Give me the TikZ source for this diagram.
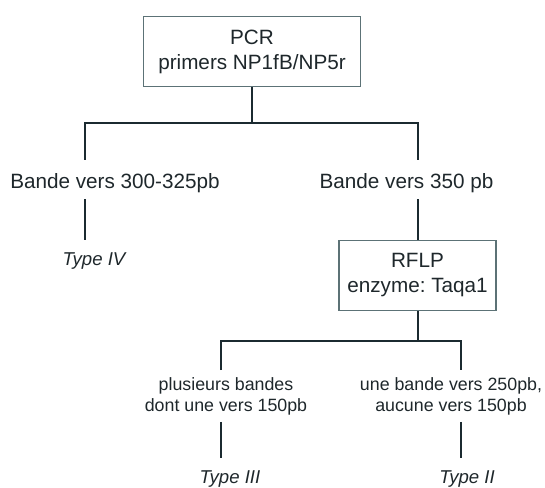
\documentclass[tikz,border=0pt]{standalone}
\usepackage{fontspec}
\setmainfont{Liberation Sans}
\usepackage{xcolor}
\usetikzlibrary{positioning,calc}
\definecolor{Ink}{HTML}{1E272B}
\definecolor{Wire}{HTML}{1B2A30}
\definecolor{Frame}{HTML}{5C7276}
\frenchspacing

\begin{document}
\begin{tikzpicture}[x=1pt,y=-1pt,
  stepbox/.style={draw=Frame,line width=1.6pt,minimum width=217pt,minimum height=70pt,
    align=center,inner sep=0pt,font=\fontsize{20.7}{25}\selectfont},
  band/.style={anchor=base,inner sep=0pt,text height=28pt,text depth=11pt,
    font=\fontsize{20.7}{25}\selectfont},
  detail/.style={anchor=north,align=center,inner xsep=0pt,inner ysep=7pt,
    font=\fontsize{17.8}{21}\selectfont},
  typelbl/.style={anchor=base,inner sep=0pt,text height=25pt,
    font=\fontsize{18.6}{22}\selectfont\itshape},
  link/.style={draw=Wire,line width=2pt},
  every node/.style={text=Ink}]
  \useasboundingbox (0,0) rectangle (545,487);
  \node[stepbox] (pcr) at (252,51.5) {PCR\\primers NP1fB/NP5r};
  \node[band] (band1) at (115,188) {Bande vers 300-325pb};
  \node[band] (band2) at (406.5,188) {Bande vers 350 pb};
  \node[typelbl] (type4) at (94,265) {Type IV};
  \node[stepbox,minimum width=157pt] (rflp) at (417.5,275.5) {RFLP\\enzyme: Taqa1};
  \node[detail] (multi) at (226,370) {plusieurs bandes\\dont une vers 150pb};
  \node[detail] (single) at (451,370) {une bande vers 250pb,\\aucune vers 150pb};
  \node[typelbl] (type3) at (230,483) {Type III};
  \node[typelbl] (type2) at (467,483) {Type II};
  \coordinate (forkL) at (85,123);
  \coordinate (forkR) at (417.5,123);
  \coordinate (subL) at (221,341);
  \coordinate (subR) at (461,341);
  \draw[link] (pcr.south) -- (pcr.south |- forkL);
  \draw[link] (band1.north -| forkL) -- (forkL) -- (forkR) -- (band2.north -| forkR);
  \draw[link] (band1.south -| forkL) -- (type4.north -| forkL);
  \draw[link] (rflp.north |- band2.south) -- (rflp.north);
  \draw[link] (rflp.south) -- (rflp.south |- subL);
  \draw[link] (multi.north -| subL) -- (subL) -- (subR) -- (single.north -| subR);
  \draw[link] (multi.south -| subL) -- (type3.north -| subL);
  \draw[link] (single.south -| subR) -- (type2.north -| subR);
\end{tikzpicture}
\end{document}
